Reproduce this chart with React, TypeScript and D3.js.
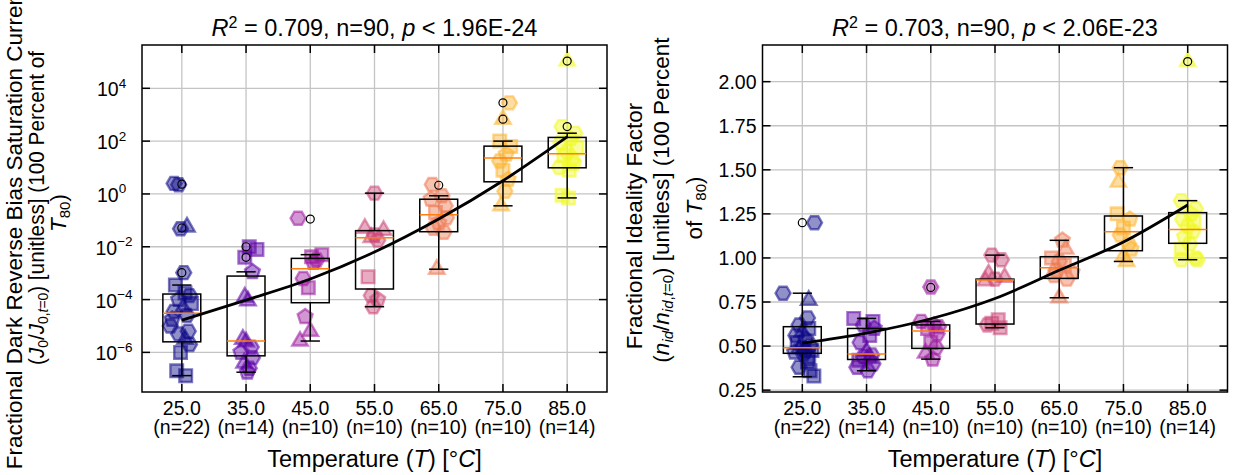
import React from "react";
import * as d3 from "d3";

// ---------- categories ----------
const temps = ["25.0", "35.0", "45.0", "55.0", "65.0", "75.0", "85.0"];
const counts = [22, 14, 10, 10, 10, 10, 14];

// ---------- left panel (log10 of J0/J0,t=0) ----------
const lv25 = [0.40, 0.35, -1.25, -1.32, -2.98, -3.45, -3.75, -3.85, -4.0, -4.15, -4.3, -4.45, -4.6, -4.75, -5.0, -5.2, -5.3, -5.5, -5.7, -6.0, -6.7, -6.88];
const lv35 = [-2.0, -2.1, -2.4, -2.95, -3.9, -4.05, -5.5, -5.6, -5.8, -6.0, -6.2, -6.4, -6.6, -6.75];
const lv45 = [-0.92, -2.3, -2.38, -2.5, -2.6, -3.2, -3.55, -4.65, -5.2, -5.57];
const lv55 = [0.03, -1.3, -1.38, -1.55, -1.65, -1.75, -3.14, -3.85, -4.0, -4.27];
const lv65 = [0.36, -0.07, -0.2, -0.45, -0.7, -0.9, -1.1, -1.3, -1.45, -2.85];
const lv75 = [3.45, 2.83, 2.0, 1.8, 1.5, 1.25, 0.9, 0.55, 0.1, -0.45];
const lv85 = [5.03, 2.55, 2.3, 2.1, 1.95, 1.75, 1.6, 1.45, 1.3, 1.15, 1.0, 0.9, -0.05, -0.15];

const lq3 = [-3.79, -3.11, -2.44, -1.39, -0.2, 1.81, 2.14];
const lmed = [-4.52, -5.57, -2.83, -1.66, -0.79, 1.36, 1.52];
const lq1 = [-5.6, -6.13, -4.12, -3.6, -1.43, 0.46, 0.99];
const lwLo = [-6.88, -6.75, -5.57, -4.27, -2.85, -0.45, -0.15];
const lwHi = [-3.45, -2.95, -2.3, 0.03, -0.07, 2.0, 2.3];
const lfl = [[0.37, -1.29, -2.98], [-2.0, -2.4], [-0.95], [], [0.33], [3.45, 2.83], [5.03, 2.55]];
const lfit = [-4.78, -4.02, -3.22, -2.2, -0.95, 0.5, 2.16];
const lticks = [4, 2, 0, -2, -4, -6];

// ---------- right panel (n_id / n_id,t=0) ----------
const rv25 = [1.2, 0.80, 0.76, 0.66, 0.62, 0.60, 0.58, 0.56, 0.54, 0.52, 0.505, 0.49, 0.485, 0.475, 0.47, 0.465, 0.455, 0.44, 0.41, 0.38, 0.36, 0.33];
const rv35 = [0.657, 0.64, 0.62, 0.60, 0.56, 0.52, 0.47, 0.45, 0.44, 0.43, 0.42, 0.40, 0.38, 0.36];
const rv45 = [0.835, 0.64, 0.62, 0.61, 0.60, 0.57, 0.52, 0.49, 0.46, 0.426];
const rv55 = [1.016, 0.99, 0.91, 0.89, 0.88, 0.87, 0.65, 0.63, 0.62, 0.604];
const rv65 = [1.10, 1.05, 1.0, 0.98, 0.96, 0.93, 0.92, 0.90, 0.88, 0.774];
const rv75 = [1.512, 1.43, 1.25, 1.22, 1.17, 1.13, 1.08, 1.05, 1.01, 0.98];
const rv85 = [2.114, 1.325, 1.28, 1.25, 1.22, 1.2, 1.18, 1.15, 1.12, 1.08, 1.05, 1.0, 0.99, 0.99];

const rq3 = [0.61, 0.60, 0.62, 0.88, 1.007, 1.238, 1.257];
const rmed = [0.49, 0.455, 0.585, 0.875, 0.945, 1.149, 1.162];
const rq1 = [0.459, 0.424, 0.487, 0.625, 0.884, 1.041, 1.083];
const rwLo = [0.326, 0.36, 0.426, 0.604, 0.774, 0.98, 0.99];
const rwHi = [0.80, 0.657, 0.64, 1.016, 1.10, 1.512, 1.325];
const rfl = [[1.2], [], [0.833], [], [], [], [2.114]];
const rfit = [0.517, 0.574, 0.655, 0.77, 0.93, 1.09, 1.30];
const rticks = [2.0, 1.75, 1.5, 1.25, 1.0, 0.75, 0.5, 0.25];

// ---------- marker shapes (h hexagon, t triangle, s square, p pentagon) ----------
const lsh = ["hhthhsshpsthhphhhthsss", "sssptttthphthp", "hsshphsptt", "htththshph", "hhphshphht", "htssphspht", "thhphshshphsss"];
const rsh = ["hhthhsthpshhtshphsshss", "sshpshthhtshhh", "hhphshshtp", "hhtthtsshs", "ptshshphht", "htspshhptt", "thhphshhphshhh"];

// ---------- horizontal jitter (category units) ----------
const ljit = [
  [-0.12, -0.05, 0.08, -0.02, 0.03, -0.1, 0.05, 0.12, -0.05, 0.15, 0.02, -0.12, 0.08, -0.15, -0.18, 0.1, -0.05, 0.05, 0.12, -0.02, -0.08, 0.06],
  [0.05, 0.17, -0.02, 0.1, -0.02, 0.03, -0.05, 0.0, 0.08, -0.08, 0.1, -0.03, 0.05, 0.02],
  [-0.19, 0.18, 0.02, 0.1, 0.05, -0.11, -0.03, -0.08, 0.0, -0.16],
  [0.0, -0.15, 0.14, 0.0, -0.05, 0.05, -0.1, -0.05, 0.05, -0.02],
  [-0.1, 0.05, -0.12, 0.1, -0.05, 0.12, 0.0, -0.08, 0.08, -0.03],
  [0.1, 0.0, -0.05, 0.12, 0.05, -0.05, 0.0, 0.08, 0.03, -0.03],
  [0.0, -0.08, 0.12, 0.05, -0.1, 0.15, 0.0, -0.05, 0.08, 0.1, -0.12, 0.03, -0.08, 0.02],
];
const rjit = [
  [0.19, -0.3, 0.1, 0.08, -0.05, 0.1, 0.0, -0.1, 0.05, -0.08, 0.12, 0.0, -0.05, 0.15, 0.05, -0.12, 0.02, 0.1, 0.08, -0.05, 0.12, 0.18],
  [-0.2, 0.1, -0.05, 0.12, 0.05, -0.1, 0.0, 0.08, -0.05, 0.05, -0.12, 0.1, -0.15, 0.02],
  [0.0, -0.15, 0.05, 0.12, -0.05, 0.1, 0.0, 0.08, -0.08, 0.03],
  [-0.05, 0.1, -0.1, 0.15, 0.0, -0.15, 0.05, -0.05, -0.12, 0.08],
  [0.05, 0.1, -0.12, 0.0, 0.08, -0.05, 0.2, -0.08, 0.12, 0.0],
  [-0.05, -0.08, -0.1, 0.1, 0.0, -0.05, 0.08, 0.12, 0.0, 0.05],
  [0.0, -0.1, 0.12, 0.05, -0.08, 0.1, 0.0, 0.08, -0.05, 0.03, -0.1, 0.12, -0.1, 0.15],
];

const FONT = "'Liberation Sans', Arial, Helvetica, sans-serif";
const TOP = 45, BOT = 392;
const TICK_FS = 19.5, LAB_FS = 23.5, YL_FS = 22.5, SUB = 15;

function shapePath(s: string): string {
  const poly = (n: number, r: number, a0: number) => {
    const pts: string[] = [];
    for (let i = 0; i < n; i++) {
      const a = a0 + (i * 2 * Math.PI) / n;
      pts.push(`${(r * Math.cos(a)).toFixed(2)},${(r * Math.sin(a)).toFixed(2)}`);
    }
    return "M" + pts.join("L") + "Z";
  };
  if (s === "h") return poly(6, 7.5, 0);
  if (s === "t") return poly(3, 9, -Math.PI / 2);
  if (s === "p") return poly(5, 7.8, -Math.PI / 2);
  return "M-6.3,-6.3L6.3,-6.3L6.3,6.3L-6.3,6.3Z";
}

type PanelProps = {
  x0: number; x1: number;
  y: (v: number) => number;
  groups: number[][]; shapes: string[]; jit: number[][];
  q1: number[]; med: number[]; q3: number[]; wLo: number[]; wHi: number[]; fl: number[][];
  fit: number[];
  ticks: number[];
  tickLabel: (v: number, yy: number, x0: number) => React.ReactNode;
  title: React.ReactNode;
};

function Panel(p: PanelProps) {
  const x = d3.scaleLinear().domain([0.38, 7.62]).range([p.x0, p.x1]);
  const bw = 0.59, cw = 0.3;
  const colors = temps.map((_, i) => d3.interpolatePlasma(i / 6));
  const line = d3.line<number>().x((_, i) => x(i + 1)).y((v) => p.y(v)).curve(d3.curveMonotoneX);
  const cx = (p.x0 + p.x1) / 2;
  return (
    <g>
      {p.ticks.map((t) => (
        <line key={"gy" + t} x1={p.x0} x2={p.x1} y1={p.y(t)} y2={p.y(t)} stroke="#c4c4c4" strokeWidth={1.3} />
      ))}
      {temps.map((_, i) => (
        <line key={"gx" + i} x1={x(i + 1)} x2={x(i + 1)} y1={TOP} y2={BOT} stroke="#c4c4c4" strokeWidth={1.3} />
      ))}
      {p.groups.map((vals, gi) =>
        vals.map((v, k) => (
          <path
            key={`p${gi}-${k}`}
            d={shapePath(p.shapes[gi][k] || "h")}
            transform={`translate(${x(gi + 1 + p.jit[gi][k])},${p.y(v)})`}
            fill={colors[gi]}
            fillOpacity={0.45}
            stroke={colors[gi]}
            strokeOpacity={0.55}
            strokeWidth={2.4}
          />
        ))
      )}
      {temps.map((_, i) => {
        const xc = x(i + 1);
        const xl = x(i + 1 - bw / 2), xr = x(i + 1 + bw / 2);
        const cl = x(i + 1 - cw / 2), cr = x(i + 1 + cw / 2);
        return (
          <g key={"b" + i} stroke="black" strokeWidth={1.5} fill="none">
            <line x1={xc} x2={xc} y1={p.y(p.q3[i])} y2={p.y(p.wHi[i])} />
            <line x1={xc} x2={xc} y1={p.y(p.q1[i])} y2={p.y(p.wLo[i])} />
            <line x1={cl} x2={cr} y1={p.y(p.wHi[i])} y2={p.y(p.wHi[i])} />
            <line x1={cl} x2={cr} y1={p.y(p.wLo[i])} y2={p.y(p.wLo[i])} />
            <rect x={xl} y={p.y(p.q3[i])} width={xr - xl} height={p.y(p.q1[i]) - p.y(p.q3[i])} />
            <line x1={xl} x2={xr} y1={p.y(p.med[i])} y2={p.y(p.med[i])} stroke="#ff7f0e" />
            {p.fl[i].map((f, k) => (
              <circle key={k} cx={xc} cy={p.y(f)} r={4} stroke="black" strokeWidth={1.2} fill="none" />
            ))}
          </g>
        );
      })}
      <path d={line(p.fit) || ""} fill="none" stroke="black" strokeWidth={2.8} />
      <rect x={p.x0} y={TOP} width={p.x1 - p.x0} height={BOT - TOP} fill="none" stroke="black" strokeWidth={1.5} />
      {p.ticks.map((t) => (
        <g key={"t" + t} stroke="black" strokeWidth={1.5}>
          <line x1={p.x0} x2={p.x0 + 8} y1={p.y(t)} y2={p.y(t)} />
          <line x1={p.x1} x2={p.x1 - 8} y1={p.y(t)} y2={p.y(t)} />
        </g>
      ))}
      {temps.map((_, i) => (
        <g key={"xt" + i} stroke="black" strokeWidth={1.5}>
          <line x1={x(i + 1)} x2={x(i + 1)} y1={BOT} y2={BOT - 8} />
          <line x1={x(i + 1)} x2={x(i + 1)} y1={TOP} y2={TOP + 8} />
        </g>
      ))}
      {p.ticks.map((t) => <g key={"tl" + t}>{p.tickLabel(t, p.y(t), p.x0)}</g>)}
      {temps.map((lab, i) => (
        <g key={"xl" + i} fontFamily={FONT} fontSize={TICK_FS} textAnchor="middle">
          <text x={x(i + 1)} y={415}>{lab}</text>
          <text x={x(i + 1)} y={434}>{`(n=${counts[i]})`}</text>
        </g>
      ))}
      <text x={cx} y={467} fontFamily={FONT} fontSize={LAB_FS} textAnchor="middle">
        Temperature (<tspan fontStyle="italic">T</tspan>) [°<tspan fontStyle="italic">C</tspan>]
      </text>
      <text x={cx} y={36} fontFamily={FONT} fontSize={LAB_FS} textAnchor="middle">
        {p.title}
      </text>
    </g>
  );
}

export default function App() {
  const yl = d3.scaleLinear().domain([-7.5, 5.64]).range([BOT, TOP]);
  const yr = d3.scaleLinear().domain([0.2395, 2.208]).range([BOT, TOP]);
  const leftTick = (v: number, yy: number) => (
    <text x={97 - (v < 0 ? 1.5 : 0)} y={yy + 8} fontFamily={FONT} fontSize={TICK_FS}>
      10<tspan dy={-8.5} fontSize={13.5}>{v < 0 ? "\u2212" + Math.abs(v) : String(v)}</tspan>
    </text>
  );
  const rightTick = (v: number, yy: number, x0: number) => (
    <text x={x0 - 6} y={yy + 7} fontFamily={FONT} fontSize={TICK_FS} textAnchor="end">
      {v.toFixed(2)}
    </text>
  );
  return (
    <svg width={1233} height={475} style={{ position: "absolute", left: 0, top: 0, background: "white" }}>
      <rect width={1233} height={475} fill="white" />
      <Panel
        x0={142} x1={607} y={yl}
        groups={[lv25, lv35, lv45, lv55, lv65, lv75, lv85]} shapes={lsh} jit={ljit}
        q1={lq1} med={lmed} q3={lq3} wLo={lwLo} wHi={lwHi} fl={lfl} fit={lfit}
        ticks={lticks} tickLabel={leftTick}
        title={<><tspan fontStyle="italic">R</tspan><tspan dy={-8.5} fontSize={16}>2</tspan><tspan dy={8.5}> = 0.709, n=90, </tspan><tspan fontStyle="italic">p</tspan> {"< 1.96E-24"}</>}
      />
      <Panel
        x0={762.5} x1={1227.5} y={yr}
        groups={[rv25, rv35, rv45, rv55, rv65, rv75, rv85]} shapes={rsh} jit={rjit}
        q1={rq1} med={rmed} q3={rq3} wLo={rwLo} wHi={rwHi} fl={rfl} fit={rfit}
        ticks={rticks} tickLabel={rightTick}
        title={<><tspan fontStyle="italic">R</tspan><tspan dy={-8.5} fontSize={16}>2</tspan><tspan dy={8.5}> = 0.703, n=90, </tspan><tspan fontStyle="italic">p</tspan> {"< 2.06E-23"}</>}
      />
      <g transform="translate(0,0) rotate(-90)" fontFamily={FONT} fontSize={YL_FS} textAnchor="middle">
        <text x={-228} y={22}>Fractional Dark Reverse Bias Saturation Current</text>
        <text x={-208} y={44} textLength={314} lengthAdjust="spacingAndGlyphs">
          (<tspan fontStyle="italic">J</tspan><tspan fontSize={SUB} dy={4}>0</tspan><tspan dy={-4}>/</tspan><tspan fontStyle="italic">J</tspan>
          <tspan fontSize={SUB} dy={4}>0,</tspan><tspan fontSize={SUB} fontStyle="italic">t</tspan><tspan fontSize={SUB}>=0</tspan>
          <tspan dy={-4}>) [unitless] (100 Percent of</tspan>
        </text>
        <text x={-213} y={66}>
          <tspan fontStyle="italic">T</tspan><tspan fontSize={SUB} dy={4}>80</tspan><tspan dy={-4}>)</tspan>
        </text>
      </g>
      <g transform="translate(620,0) rotate(-90)" fontFamily={FONT} fontSize={YL_FS} textAnchor="middle">
        <text x={-226} y={22}>Fractional Ideality Factor</text>
        <text x={-200} y={49}>
          (<tspan fontStyle="italic">n</tspan><tspan fontSize={SUB} dy={4} fontStyle="italic">id</tspan><tspan dy={-4}>/</tspan><tspan fontStyle="italic">n</tspan>
          <tspan fontSize={SUB} dy={4} fontStyle="italic">id</tspan><tspan fontSize={SUB}>,</tspan><tspan fontSize={SUB} fontStyle="italic">t</tspan><tspan fontSize={SUB}>=0</tspan>
          <tspan dy={-4}>) [unitless] (100 Percent</tspan>
        </text>
        <text x={-208} y={82}>
          of <tspan fontStyle="italic">T</tspan><tspan fontSize={SUB} dy={4}>80</tspan><tspan dy={-4}>)</tspan>
        </text>
      </g>
    </svg>
  );
}
